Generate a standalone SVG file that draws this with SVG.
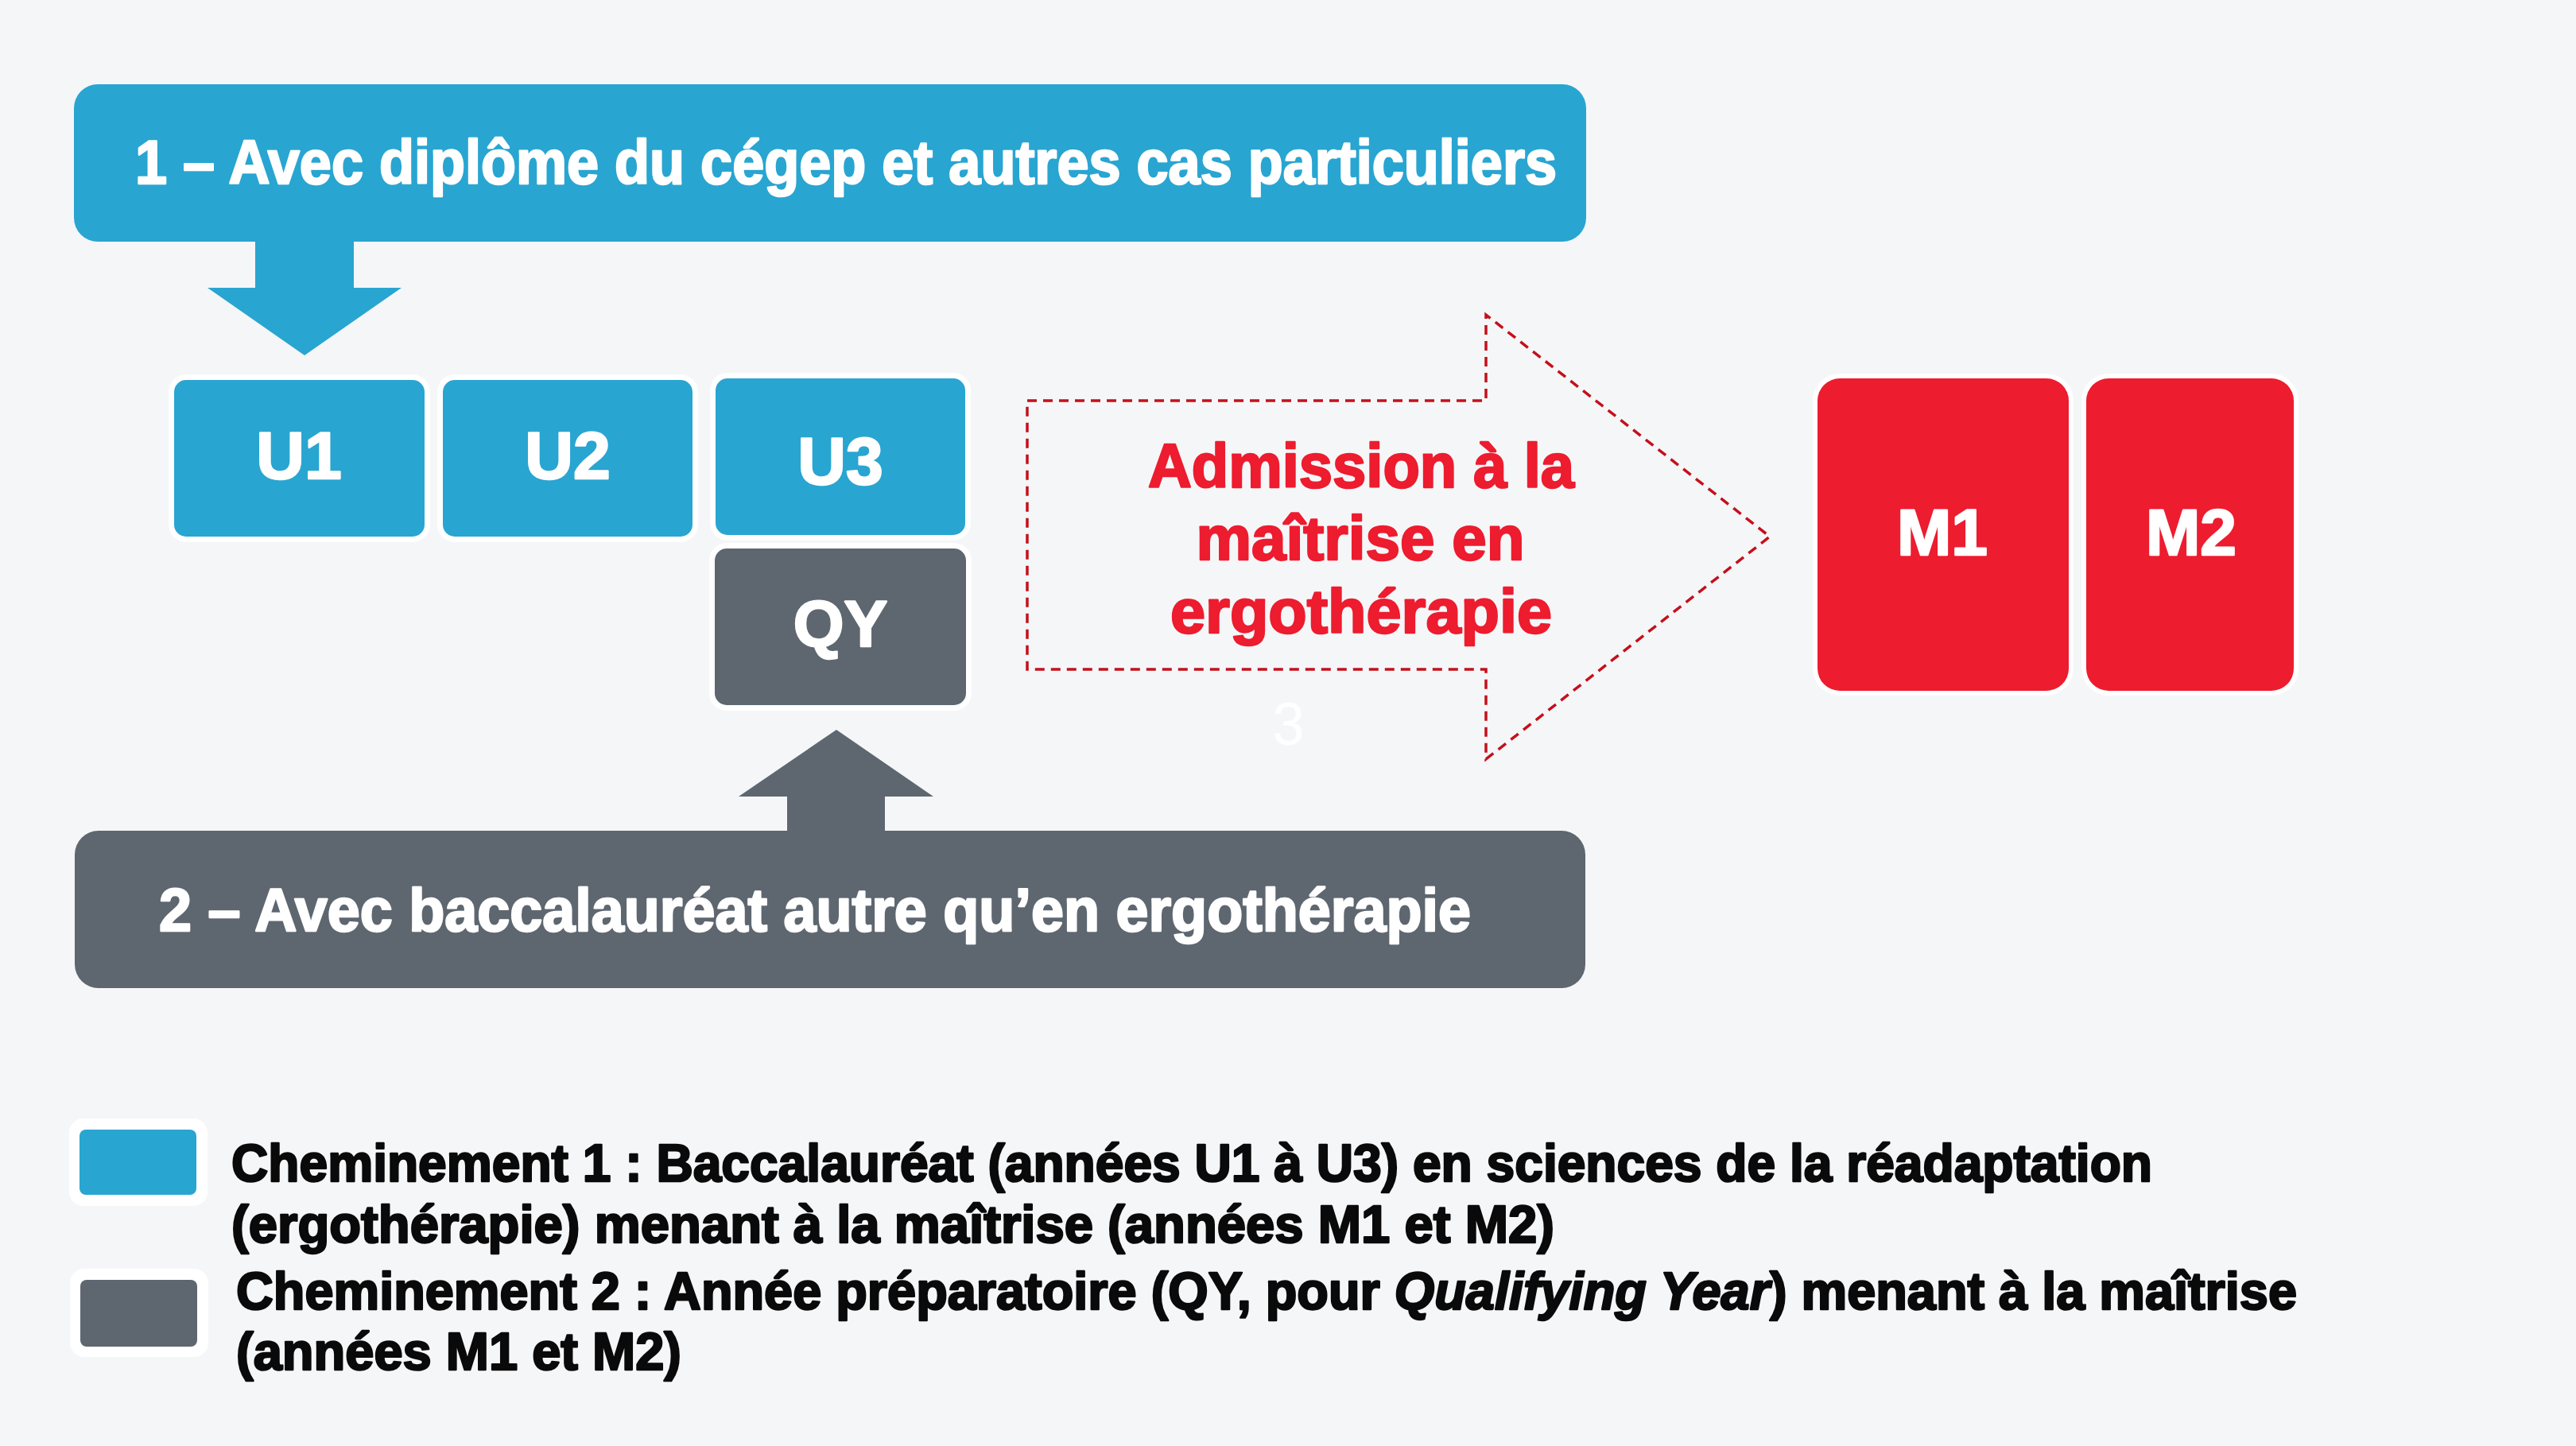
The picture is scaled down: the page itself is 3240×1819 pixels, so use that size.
<svg xmlns="http://www.w3.org/2000/svg" width="3240" height="1819" viewBox="0 0 3240 1819">
  <style>
    .t { font-family: "Liberation Sans", Arial, sans-serif; font-weight: bold; stroke-width: 2.5; stroke-linejoin: round; }
    .w { fill: #ffffff; stroke: #ffffff; }
    .rt { fill: #ed1c2f; stroke: #ed1c2f; }
    .blue { fill: #29a5d1; }
    .gray { fill: #5e6770; }
    .red { fill: #ed1c2f; }
    .halo { fill: #ffffff; }
    .dash { fill: none; stroke: #c4101c; stroke-width: 3.5; stroke-dasharray: 12 8; stroke-linejoin: miter; }
    .leg { fill: #0a0a0a; stroke: #0a0a0a; font-size: 66px; }
  </style>
  <rect x="0" y="0" width="3240" height="1819" fill="#f5f6f8"/>

  <g id="connectors">
    <polygon class="blue" points="321,303 445,303 445,362 505,362 383,447 261,362 321,362"/>
    <polygon class="gray" points="1052,918 1174,1002 1113,1002 1113,1046 990,1046 990,1002 929,1002"/>
  </g>

  <g id="title1">
    <rect class="blue" x="93" y="106" width="1902" height="198" rx="30"/>
    <text class="t w" x="170" y="231" font-size="77" textLength="1788" lengthAdjust="spacingAndGlyphs">1 – Avec diplôme du cégep et autres cas particuliers</text>
  </g>

  <g id="title2">
    <rect class="gray" x="94" y="1045" width="1900" height="198" rx="30"/>
    <text class="t w" x="200" y="1171" font-size="76" textLength="1650" lengthAdjust="spacingAndGlyphs">2 – Avec baccalauréat autre qu’en ergothérapie</text>
  </g>

  <g id="U1">
    <rect class="halo" x="212" y="471" width="329" height="211" rx="22"/>
    <rect class="blue" x="219" y="478" width="315" height="197" rx="15"/>
    <text class="t w" x="376" y="602" font-size="84" text-anchor="middle">U1</text>
  </g>
  <g id="U2">
    <rect class="halo" x="550" y="471" width="328" height="211" rx="22"/>
    <rect class="blue" x="557" y="478" width="314" height="197" rx="15"/>
    <text class="t w" x="714" y="602" font-size="84" text-anchor="middle">U2</text>
  </g>
  <g id="U3">
    <rect class="halo" x="893" y="469" width="328" height="211" rx="22"/>
    <rect class="blue" x="900" y="476" width="314" height="197" rx="15"/>
    <text class="t w" x="1057" y="609" font-size="84" text-anchor="middle">U3</text>
  </g>
  <g id="QY">
    <rect class="halo" x="892" y="683" width="330" height="211" rx="22"/>
    <rect class="gray" x="899" y="690" width="316" height="197" rx="15"/>
    <text class="t w" x="1057" y="813" font-size="82" text-anchor="middle">QY</text>
  </g>

  <g id="admission">
    <path class="dash" d="M1292,504 L1869,504 L1869,396 L2226,675 L1869,955 L1869,842 L1292,842 Z"/>
    <text class="t rt" x="1712" y="613" font-size="78" text-anchor="middle" textLength="536" lengthAdjust="spacingAndGlyphs">Admission à la</text>
    <text class="t rt" x="1711" y="704" font-size="78" text-anchor="middle" textLength="413" lengthAdjust="spacingAndGlyphs">maîtrise en</text>
    <text class="t rt" x="1712" y="796" font-size="78" text-anchor="middle" textLength="480" lengthAdjust="spacingAndGlyphs">ergothérapie</text>
    <text x="1621" y="937" font-family="Roboto, 'Liberation Sans', sans-serif" font-size="75" fill="#ffffff" text-anchor="middle">3</text>
  </g>

  <g id="M1">
    <rect class="halo" x="2280" y="470" width="328" height="405" rx="34"/>
    <rect class="red" x="2286" y="476" width="316" height="393" rx="28"/>
    <text class="t w" x="2443" y="698" font-size="82" text-anchor="middle">M1</text>
  </g>
  <g id="M2">
    <rect class="halo" x="2618" y="470" width="273" height="405" rx="34"/>
    <rect class="red" x="2624" y="476" width="261" height="393" rx="28"/>
    <text class="t w" x="2756" y="698" font-size="82" text-anchor="middle">M2</text>
  </g>

  <g id="legend">
    <rect class="halo" x="87" y="1407" width="174" height="110" rx="18"/>
    <rect class="blue" x="100" y="1421" width="147" height="82" rx="8"/>
    <rect class="halo" x="88" y="1596" width="174" height="111" rx="18"/>
    <rect class="gray" x="101" y="1610" width="147" height="84" rx="8"/>
    <text class="t leg" x="291" y="1486" textLength="2416" lengthAdjust="spacingAndGlyphs">Cheminement 1 : Baccalauréat (années U1 à U3) en sciences de la réadaptation</text>
    <text class="t leg" x="291" y="1563" textLength="1664" lengthAdjust="spacingAndGlyphs">(ergothérapie) menant à la maîtrise (années M1 et M2)</text>
    <text class="t leg" x="297" y="1647" textLength="2592" lengthAdjust="spacingAndGlyphs">Cheminement 2 : Année préparatoire (QY, pour <tspan font-style="italic">Qualifying Year</tspan>) menant à la maîtrise</text>
    <text class="t leg" x="297" y="1723" textLength="560" lengthAdjust="spacingAndGlyphs">(années M1 et M2)</text>
  </g>
</svg>
